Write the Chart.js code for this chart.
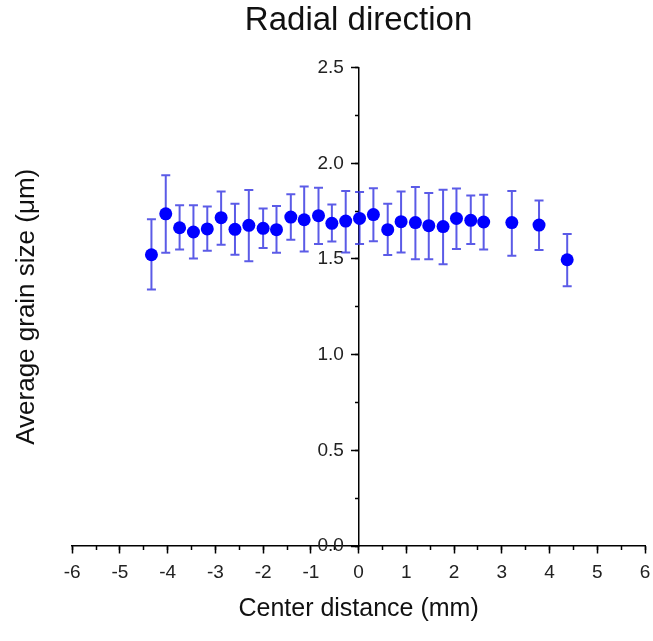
<!DOCTYPE html>
<html>
<head>
<meta charset="utf-8">
<script src="https://cdn.jsdelivr.net/npm/chart.js@4/dist/chart.umd.min.js"></script>
<style>
  html, body { margin: 0; padding: 0; background: #fff; }
  #wrap { width: 653px; height: 641px; }
</style>
</head>
<body>
<div id="wrap"><canvas id="myChart"></canvas></div>
<script>
// center distance (mm)
const distance = [-4.34, -4.04, -3.75, -3.46, -3.17, -2.88, -2.59, -2.30, -2.00, -1.72,
                  -1.42, -1.14, -0.84, -0.56, -0.27, 0.02, 0.31, 0.61, 0.89, 1.19,
                  1.47, 1.77, 2.05, 2.35, 2.62, 3.21, 3.78, 4.37];
// average grain size (um)
const grainSize = [1.522, 1.736, 1.663, 1.641, 1.657, 1.716, 1.655, 1.676, 1.660, 1.653,
                   1.719, 1.705, 1.726, 1.686, 1.698, 1.712, 1.732, 1.653, 1.695, 1.690,
                   1.674, 1.669, 1.712, 1.702, 1.693, 1.690, 1.677, 1.496];
// error bar ends
const errHigh = [1.707, 1.938, 1.781, 1.781, 1.774, 1.853, 1.788, 1.860, 1.764, 1.777,
                 1.838, 1.879, 1.872, 1.785, 1.855, 1.850, 1.869, 1.788, 1.853, 1.876,
                 1.845, 1.862, 1.868, 1.831, 1.836, 1.855, 1.805, 1.631];
const errLow = [1.341, 1.533, 1.550, 1.502, 1.543, 1.574, 1.522, 1.488, 1.557, 1.533,
                1.601, 1.539, 1.578, 1.591, 1.534, 1.578, 1.593, 1.521, 1.534, 1.498,
                1.498, 1.472, 1.552, 1.578, 1.550, 1.517, 1.547, 1.358];

const xTicks = [-6, -5, -4, -3, -2, -1, 0, 1, 2, 3, 4, 5, 6];
const yTicks = [0.0, 0.5, 1.0, 1.5, 2.0, 2.5];

const points = distance.map((d, i) => ({ x: d, y: grainSize[i] }));

const fontFamily = '"Liberation Sans", Arial, sans-serif';

// draws the vertical error bars under the markers
const errorBars = {
    id: 'errorBars',
    beforeDatasetsDraw(chart) {
        const c = chart.ctx;
        const xs = chart.scales.x, ys = chart.scales.y;
        c.save();
        c.strokeStyle = 'rgba(50, 50, 225, 0.8)';
        c.lineWidth = 2;
        distance.forEach((d, i) => {
            const px = xs.getPixelForValue(d);
            const top = ys.getPixelForValue(errHigh[i]);
            const bot = ys.getPixelForValue(errLow[i]);
            c.beginPath();
            c.moveTo(px, top); c.lineTo(px, bot);
            c.moveTo(px - 4.5, top); c.lineTo(px + 4.5, top);
            c.moveTo(px - 4.5, bot); c.lineTo(px + 4.5, bot);
            c.stroke();
        });
        c.restore();
    }
};

const axisBorder = { display: true, color: '#000', width: 1.5 };
// title-only axes (no ticks, no line)
const bare = { ticks: { display: false }, grid: { display: false }, border: { display: false } };

const ctx = document.getElementById('myChart');

let graphData = {
    type: 'scatter',
    data: {
        datasets: [{
            label: 'Radial direction', data: points, xAxisID: 'x', yAxisID: 'y',
            backgroundColor: '#0000ff', borderColor: '#0000ff',
            pointRadius: 6.5, pointHoverRadius: 6.5, borderWidth: 0
        }]
    },
    options: {
        responsive: true, maintainAspectRatio: false, animation: false,
        layout: { padding: { left: 1, right: 8, top: 0, bottom: 11 } },
        plugins: {
            legend: { display: false },
            tooltip: { enabled: false }
        },
        scales: {
            x: {
                type: 'linear', min: -6, max: 6, position: { y: 0 },
                afterBuildTicks: s => { s.ticks = xTicks.map(v => ({ value: v })); },
                afterFit: s => { s.paddingRight = 0; },
                ticks: { color: '#222', font: { family: fontFamily, size: 19 }, padding: 8 },
                grid: { drawOnChartArea: false, tickLength: 7, tickColor: '#000', tickWidth: 1.5 },
                border: axisBorder
            },
            xMinor: {
                type: 'linear', min: -6, max: 6, position: { y: 0 },
                ticks: { stepSize: 0.5, display: false },
                grid: { drawOnChartArea: false, tickLength: 4, tickColor: '#000', tickWidth: 1.5 },
                border: { display: false }
            },
            xTop: {
                type: 'linear', min: -6, max: 6, position: 'top', ...bare,
                title: {
                    display: true, text: 'Radial direction', color: '#111',
                    font: { family: fontFamily, size: 33 }, padding: { top: 1, bottom: 19 }
                }
            },
            xTitle: {
                type: 'linear', min: -6, max: 6, position: 'bottom', ...bare,
                title: {
                    display: true, text: 'Center distance (mm)', color: '#111',
                    font: { family: fontFamily, size: 25 }, padding: { top: 40, bottom: 6 }
                }
            },
            y: {
                type: 'linear', min: 0, max: 2.5, position: { x: 0 },
                afterBuildTicks: s => { s.ticks = yTicks.map(v => ({ value: v })); },
                ticks: { color: '#222', font: { family: fontFamily, size: 19 },
                         callback: v => v.toFixed(1) + '\u2002 ' },
                grid: { drawOnChartArea: false, tickLength: 7, tickColor: '#000', tickWidth: 1.5 },
                border: axisBorder
            },
            yMinor: {
                type: 'linear', min: 0, max: 2.5, position: { x: 0 },
                ticks: { stepSize: 0.25, display: false },
                grid: { drawOnChartArea: false, tickLength: 4, tickColor: '#000', tickWidth: 1.5 },
                border: { display: false }
            },
            yTitle: {
                type: 'linear', min: 0, max: 2.5, position: 'left', ...bare,
                title: {
                    display: true, text: 'Average grain size (μm)', color: '#111',
                    font: { family: fontFamily, size: 26 }, padding: { top: 10, bottom: 22 }
                }
            }
        }
    },
    plugins: [errorBars]
};

var myChart = new Chart(ctx, graphData);
</script>
</body>
</html>
